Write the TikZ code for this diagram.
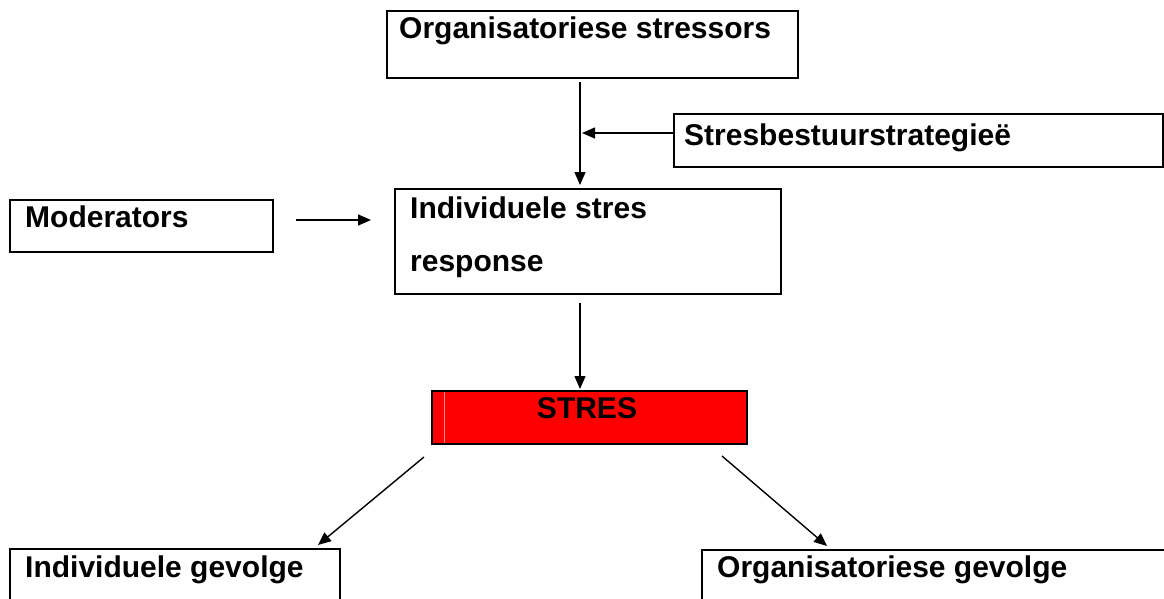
\documentclass[tikz,border=0pt]{standalone}
\usepackage{fontspec}
\setmainfont{Liberation Sans}
\usetikzlibrary{arrows.meta,calc}
\begin{document}
\begin{tikzpicture}[x=1pt,y=-1pt,
  box/.style={draw=black,line width=2pt,anchor=north west,inner sep=0pt,rectangle},
  txt/.style={font=\bfseries\fontsize{30}{36}\selectfont,inner sep=0pt,anchor=base west},
  arr/.style={line width=1.4pt,-{Triangle[length=13pt,width=11pt]}}]
\useasboundingbox (0,0) rectangle (1164,599);
\clip (0,0) rectangle (1164,599);
\fill[white] (0,0) rectangle (1164,599);

% boxes
\node[box,minimum width=411pt,minimum height=67pt] (org) at (386,10) {};
\node[box,minimum width=489pt,minimum height=53pt] (strat) at (673,113) {};
\node[box,minimum width=263pt,minimum height=52pt] (mod) at (9,199) {};
\node[box,minimum width=386pt,minimum height=105pt] (resp) at (394,188) {};
\node[box,fill=red,minimum width=315pt,minimum height=53pt] (stres) at (431,390) {};
\draw[red!45!white,line width=0.7pt]
  ($(stres.north west)+(13,2)$) -- ($(stres.south west)+(13,-2)$);
\node[box,minimum width=330pt,minimum height=80pt] (indiv) at (9,548) {};
\node[box,minimum width=500pt,minimum height=80pt] (orgev) at (701,549) {};

% labels
\node[txt] (torg) at (399,39) {Organisatoriese stressors};
\node[txt] (tstrat) at (684,146) {Stresbestuurstrategieë};
\node[txt] (tmod) at (25,227) {Moderators};
\node[txt] (tresp1) at (410,218) {Individuele stres};
\node[txt] (tresp2) at (410,271) {response};
\node[font=\bfseries\fontsize{30}{36}\selectfont,inner sep=0pt,anchor=base] (tstres) at (587,418) {STRES};
\node[txt] (tindiv) at (25,577) {Individuele gevolge};
\node[txt] (torgev) at (717,577) {Organisatoriese gevolge};

% connectors
\coordinate (vx) at (580,0);
\coordinate (p1) at ($(org.south -| vx)+(0,3)$);
\coordinate (p2) at ($(resp.north -| vx)+(0,-3)$);
\draw[arr] (p1) -- (p2);

\coordinate (j) at (582,133);
\draw[arr] (strat.west |- j) -- (j);

\coordinate (m1) at (296,220);
\coordinate (m2) at (371,220);
\draw[arr] (m1) -- (m2);

\coordinate (p3) at ($(resp.south -| vx)+(0,8)$);
\coordinate (p4) at ($(stres.north -| vx)+(0,-1)$);
\draw[arr] (p3) -- (p4);

\coordinate (l1) at (424,457);
\coordinate (l2) at ($(indiv.north west)+(309,-3)$);
\draw[arr] (l1) -- (l2);

\coordinate (r1) at (722,456);
\coordinate (r2) at ($(orgev.north west)+(126,-3)$);
\draw[arr] (r1) -- (r2);
\end{tikzpicture}
\end{document}
